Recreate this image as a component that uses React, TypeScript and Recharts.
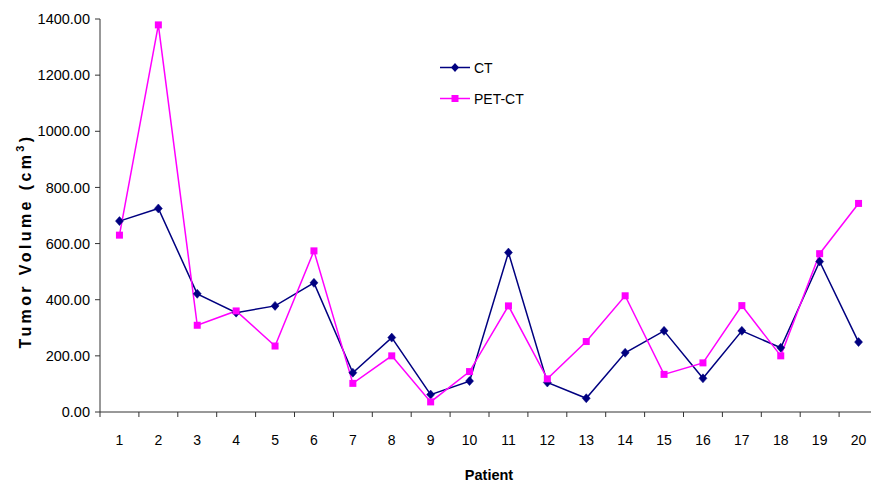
import React from 'react';
import { LineChart, Line, XAxis, YAxis, Legend } from 'recharts';

const patients = ['1', '2', '3', '4', '5', '6', '7', '8', '9', '10', '11', '12', '13', '14', '15', '16', '17', '18', '19', '20'];
const ctValues = [680, 725, 421, 354, 378, 460, 140, 265, 62, 110, 568, 105, 49, 211, 289, 120, 289, 229, 536, 249];
const petValues = [630, 1379, 309, 360, 235, 574, 102, 200, 36, 144, 378, 118, 251, 414, 134, 175, 379, 200, 564, 743];
const yTicks = [0, 200, 400, 600, 800, 1000, 1200, 1400];
const seriesNames = ['CT', 'PET-CT'];

const data = patients.map((p, i) => ({ patient: p, CT: ctValues[i], 'PET-CT': petValues[i] }));

const CT_COLOR = '#000080';
const PET_COLOR = '#FF00FF';
const AXIS_COLOR = '#333333';
const CHART_W = 878;
const CHART_H = 482;
const Y_AXIS_W = 100;
const BAND = (CHART_W - Y_AXIS_W) / patients.length;
const FONT = '"Liberation Sans", Arial, sans-serif';

const Diamond = (props: any) => {
  const { cx, cy } = props;
  if (cx == null || cy == null) return null;
  return <path d={`M${cx},${cy - 4.5}L${cx + 4},${cy}L${cx},${cy + 4.5}L${cx - 4},${cy}Z`} fill={CT_COLOR} stroke={CT_COLOR} strokeWidth={0.5} />;
};

const Square = (props: any) => {
  const { cx, cy } = props;
  if (cx == null || cy == null) return null;
  return <rect x={cx - 3.5} y={cy - 3.5} width={7} height={7} fill={PET_COLOR} />;
};

const XTick = (props: any) => {
  const { x, y, payload, index } = props;
  const left = x - BAND / 2;
  return (
    <g>
      <line x1={left} x2={left} y1={y} y2={y + 5} stroke={AXIS_COLOR} strokeWidth={1} />
      {index === patients.length - 1 && (
        <line x1={x + BAND / 2} x2={x + BAND / 2} y1={y} y2={y + 5} stroke={AXIS_COLOR} strokeWidth={1} />
      )}
      <text x={x} y={y + 33} textAnchor="middle" fontSize={14} fill="#000" fontFamily={FONT}>
        {payload.value}
      </text>
    </g>
  );
};

const YLabel = () => (
  <text
    x={31}
    y={241}
    transform="rotate(-90, 31, 241)"
    textAnchor="middle"
    fontSize={16}
    fontWeight="bold"
    letterSpacing={3.4}
    fill="#000"
    fontFamily={FONT}
  >
    Tumor Volume (cm
    <tspan dy={-7} fontSize={11}>3</tspan>
    <tspan dy={7}>)</tspan>
  </text>
);

const LegendContent = () => (
  <div style={{ fontFamily: FONT, fontSize: 14, color: '#000' }}>
    {seriesNames.map((name, i) => (
      <div key={name} style={{ display: 'flex', alignItems: 'center', height: 31 }}>
        <svg width={34} height={31} style={{ display: 'block' }}>
          <line x1={0} x2={30} y1={15.5} y2={15.5} stroke={i === 0 ? CT_COLOR : PET_COLOR} strokeWidth={1.5} />
          {i === 0 ? (
            <path d="M15,11L19,15.5L15,20L11,15.5Z" fill={CT_COLOR} />
          ) : (
            <rect x={11.5} y={12} width={7} height={7} fill={PET_COLOR} />
          )}
        </svg>
        <span>{name}</span>
      </div>
    ))}
  </div>
);

export default function App() {
  return (
    <div style={{ position: 'absolute', left: 0, top: 0, width: 871, height: 482, overflow: 'hidden', background: '#fff' }}>
      <LineChart
        width={CHART_W}
        height={CHART_H}
        data={data}
        margin={{ top: 19, right: 0, bottom: 0, left: 0 }}
        style={{ fontFamily: FONT }}
      >
        <XAxis
          dataKey="patient"
          interval={0}
          padding={{ left: BAND / 2, right: BAND / 2 }}
          tickLine={false}
          tickSize={0}
          tickMargin={0}
          tick={<XTick />}
          axisLine={{ stroke: AXIS_COLOR, strokeWidth: 1 }}
          height={70}
          label={{ value: 'Patient', position: 'insideBottom', offset: 2, fontSize: 14.5, fontWeight: 'bold', fill: '#000' }}
        />
        <YAxis
          width={Y_AXIS_W}
          domain={[0, 1400]}
          ticks={yTicks}
          interval={0}
          tickFormatter={(v: number) => v.toFixed(2)}
          tickSize={5}
          tickMargin={5}
          tick={{ fontSize: 14.5, fill: '#000' }}
          axisLine={{ stroke: AXIS_COLOR, strokeWidth: 1 }}
          tickLine={{ stroke: AXIS_COLOR, strokeWidth: 1 }}
          label={YLabel}
        />
        <Legend
          layout="horizontal"
          verticalAlign="middle"
          align="center"
          content={<LegendContent />}
          wrapperStyle={{ top: 52, left: 440, width: 130 }}
        />
        <Line
          type="linear"
          dataKey="CT"
          name="CT"
          stroke={CT_COLOR}
          strokeWidth={1.5}
          dot={<Diamond />}
          activeDot={false}
          isAnimationActive={false}
        />
        <Line
          type="linear"
          dataKey="PET-CT"
          name="PET-CT"
          stroke={PET_COLOR}
          strokeWidth={1.5}
          dot={<Square />}
          activeDot={false}
          isAnimationActive={false}
        />
      </LineChart>
    </div>
  );
}
